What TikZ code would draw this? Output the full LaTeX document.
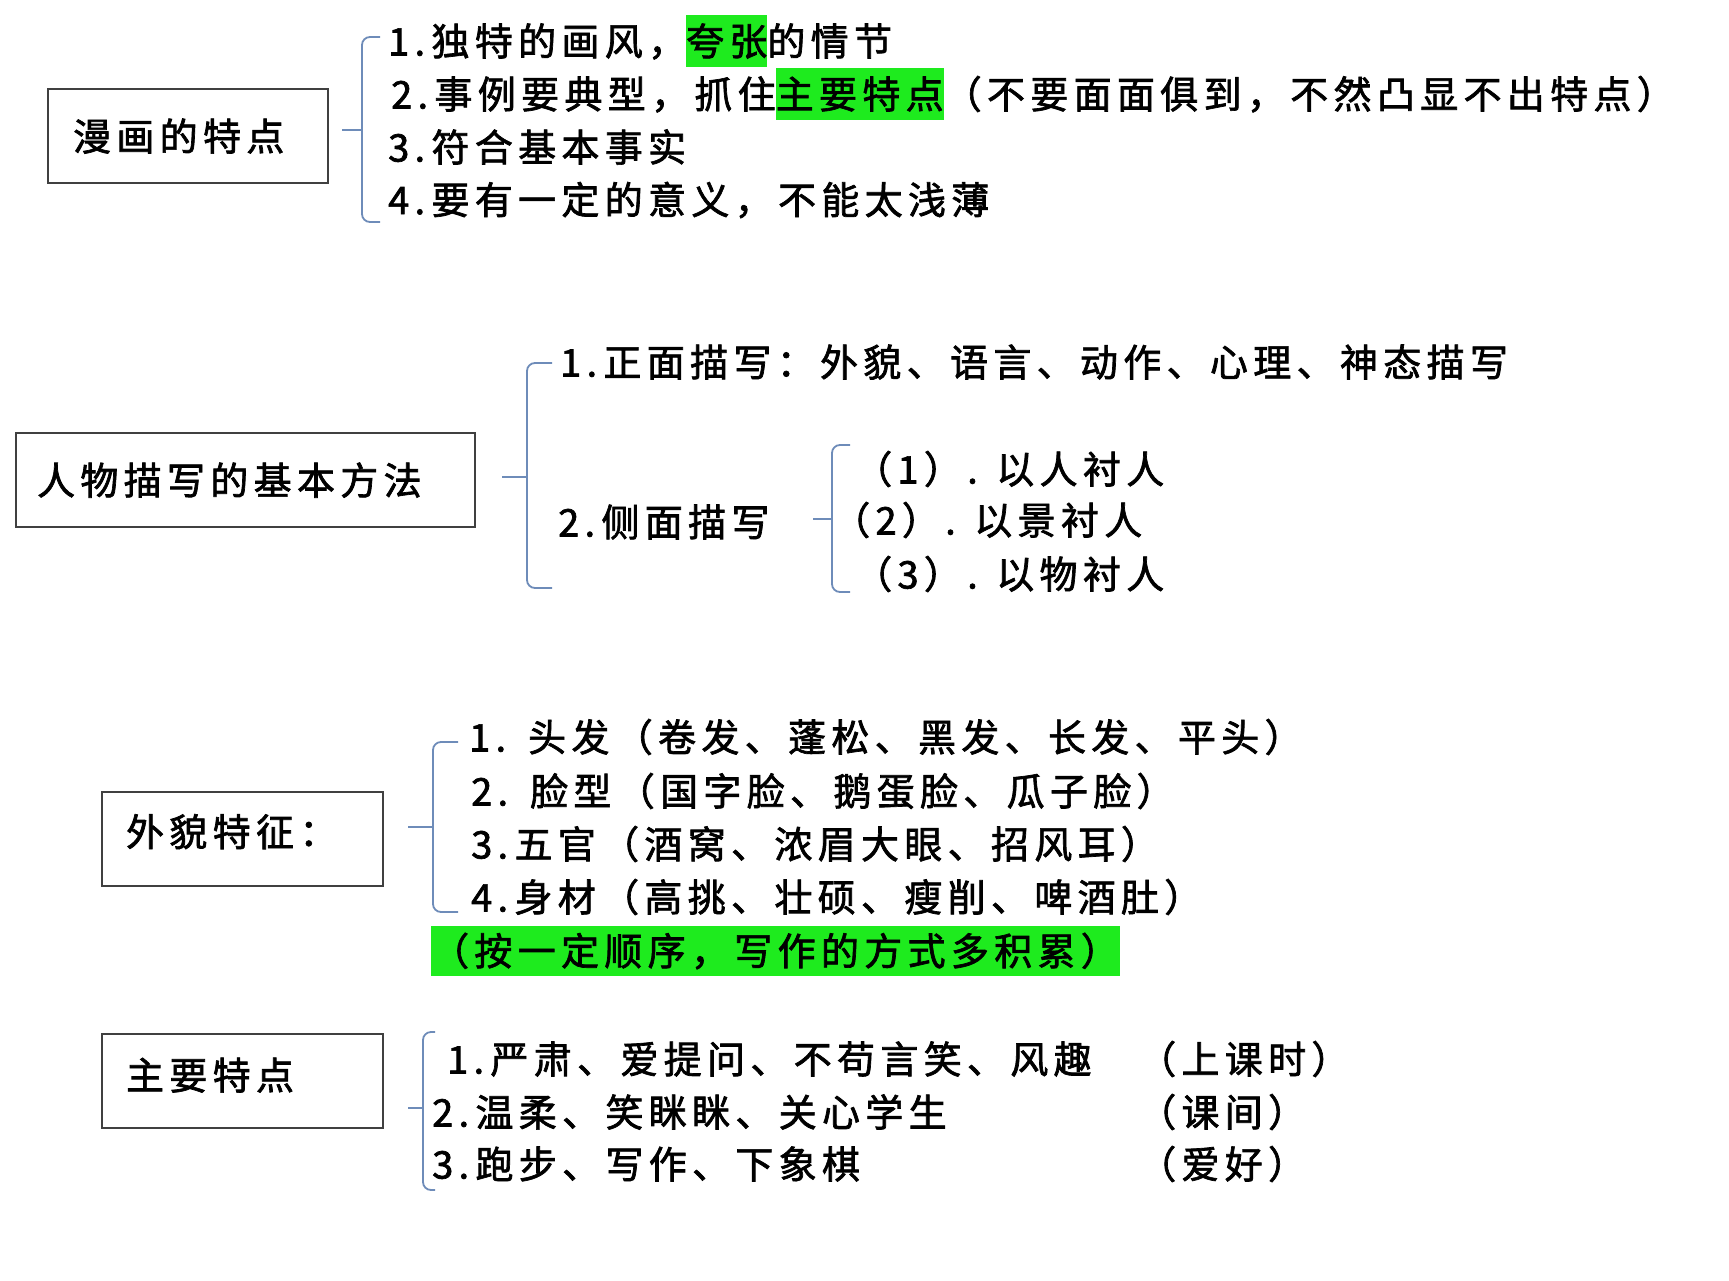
\documentclass[tikz,border=0pt]{standalone}
\usepackage{fontspec}
\newfontfamily\cjk{Noto Sans CJK SC}[LetterSpace=14, FakeBold=1.8]
\usetikzlibrary{positioning}
\definecolor{hl}{RGB}{30,235,30}
\definecolor{bracecol}{RGB}{110,140,185}
\newcommand{\hlt}[1]{{\setlength{\fboxsep}{0pt}\colorbox{hl}{\rule[-0.3em]{0pt}{1.36em}#1}}}

\begin{document}
\begin{tikzpicture}[x=1pt, y=-1pt,
  every node/.style={font=\cjk\fontsize{38}{44}\selectfont, inner sep=0pt},
  txt/.style={anchor=west},
  box/.style={draw=black!75, line width=2.2pt, anchor=north west, align=left, minimum height=94pt},
  brc/.style={draw=bracecol, line width=1.8pt, rounded corners=8pt}]
\useasboundingbox (0,0) rectangle (1729,1280);

% 漫画的特点
\node[box, inner xsep=25pt, text width=230pt] (m) at (47,88) {漫画的特点};
\node[txt] (m1) at (388,41) {1.\,独特的画风，\hlt{夸张}的情节};
\node[txt] (m2) at (391,94) {2.\,事例要典型，抓住\hlt{主要特点}（不要面面俱到，不然凸显不出特点）};
\node[txt] (m3) at (388,147) {3.\,符合基本事实};
\node[txt] (m4) at (388,200) {4.\,要有一定的意义，不能太浅薄};
\coordinate (k1t) at (380,37);
\coordinate (k1m) at (362,130);
\coordinate (k1b) at (380,222);
\coordinate (k1p) at (342,130);
\draw[brc] (k1t) -| (k1m) |- (k1b);
\draw[brc] (k1p) -- (k1m);

% 人物描写的基本方法
\node[box, inner xsep=21pt, text width=417pt] (r) at (15,432) {人物描写的基本方法};
\node[txt] (r1) at (560,362) {1.\,正面描写：外貌、语言、动作、心理、神态描写};
\node[txt] (r2) at (558,522) {2.\,侧面描写};
\node[txt] (s1) at (854,469) {（1）. 以人衬人};
\node[txt] (s2) at (832,520) {（2）. 以景衬人};
\node[txt] (s3) at (854,574) {（3）. 以物衬人};
\coordinate (k2t) at (552,363);
\coordinate (k2m) at (527,477);
\coordinate (k2b) at (552,588);
\coordinate (k2p) at (502,477);
\draw[brc] (k2t) -| (k2m) |- (k2b);
\draw[brc] (k2p) -- (k2m);
\coordinate (k3t) at (850,445);
\coordinate (k3m) at (832,519);
\coordinate (k3b) at (850,592);
\coordinate (k3p) at (813,519);
\draw[brc] (k3t) -| (k3m) |- (k3b);
\draw[brc] (k3p) -- (k3m);

% 外貌特征
\node[box, inner xsep=24pt, text width=233pt] (w) at (101,791) {\raisebox{18pt}{外貌特征：}};
\node[txt] (w1) at (469,737) {1.\hspace*{22pt}头发（卷发、蓬松、黑发、长发、平头）};
\node[txt] (w2) at (471,791) {2.\hspace*{22pt}脸型（国字脸、鹅蛋脸、瓜子脸）};
\node[txt] (w3) at (471,844) {3.\,五官（酒窝、浓眉大眼、招风耳）};
\node[txt] (w4) at (471,897) {4.\,身材（高挑、壮硕、瘦削、啤酒肚）};
\node[fill=hl, minimum width=689pt, minimum height=50pt] (g) at (775,951) {（按一定顺序，写作的方式多积累）};
\coordinate (k4t) at (458,742);
\coordinate (k4m) at (433,827);
\coordinate (k4b) at (458,912);
\coordinate (k4p) at (408,827);
\draw[brc] (k4t) -| (k4m) |- (k4b);
\draw[brc] (k4p) -- (k4m);

% 主要特点
\node[box, inner xsep=24pt, text width=233pt] (z) at (101,1033) {\raisebox{15pt}{主要特点}};
\node[txt] (z1) at (447,1059) {1.\,严肃、爱提问、不苟言笑、风趣};
\node[txt] (z2) at (432,1112) {2.\,温柔、笑眯眯、关心学生};
\node[txt] (z3) at (432,1164) {3.\,跑步、写作、下象棋};
\node[txt] (y1) at (1138,1059) {（上课时）};
\node[txt] (y2) at (1138,1112) {（课间）};
\node[txt] (y3) at (1138,1164) {（爱好）};
\coordinate (k5t) at (435,1032);
\coordinate (k5m) at (423,1108);
\coordinate (k5b) at (435,1190);
\coordinate (k5p) at (408,1108);
\draw[brc] (k5t) -| (k5m) |- (k5b);
\draw[brc] (k5p) -- (k5m);
\end{tikzpicture}
\end{document}
